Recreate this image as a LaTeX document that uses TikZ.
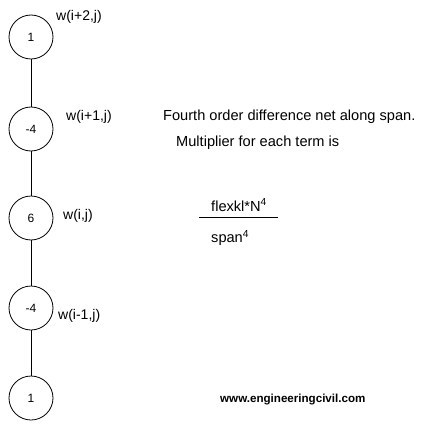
\documentclass[tikz,border=0pt]{standalone}
\usepackage{fontspec}
\setmainfont{Liberation Sans}
\begin{document}
\begin{tikzpicture}[x=1pt,y=1pt,
  pt/.style={circle,draw,line width=0.8pt,minimum size=44pt,inner sep=0pt,font=\fontsize{12}{14}\selectfont},
  lbl/.style={anchor=west,inner sep=0pt,font=\fontsize{14}{16}\selectfont},
  txt/.style={anchor=west,inner sep=0pt,font=\fontsize{14.6}{16}\selectfont}]
\useasboundingbox (0,0) rectangle (424,-425);
\node[pt] (n1) at (31,-37) {1};
\node[pt] (n2) at (31,-129) {-4};
\node[pt] (n3) at (31,-218) {6};
\node[pt] (n4) at (31,-308) {-4};
\node[pt] (n5) at (31,-398) {1};
\draw[line width=0.8pt] (n1.south) -- (n2.north) (n2.south) -- (n3.north) (n3.south) -- (n4.north) (n4.south) -- (n5.north);
\node[lbl] (l1) at (56,-17) {w(i+2,j)};
\node[lbl] (l2) at (66,-117) {w(i+1,j)};
\node[lbl] (l3) at (63,-216) {w(i,j)};
\node[lbl] (l4) at (58,-316) {w(i-1,j)};
\node[txt] (t1) at (163,-117) {Fourth order difference net along span.};
\node[txt] (t2) at (176,-143) {Multiplier for each term is};
\node[txt] (num) at (211,-205) {flexkl*N\textsuperscript{4}};
\coordinate (fa) at (199,-217);
\coordinate (fb) at (278,-217);
\draw[line width=0.8pt] (fa) -- (fb);
\node[txt] (den) at (211,-238) {span\textsuperscript{4}};
\node[anchor=west,inner sep=0pt,font=\bfseries\fontsize{11.6}{13}\selectfont] (www) at (220,-400) {www.engineeringcivil.com};
\end{tikzpicture}
\end{document}
